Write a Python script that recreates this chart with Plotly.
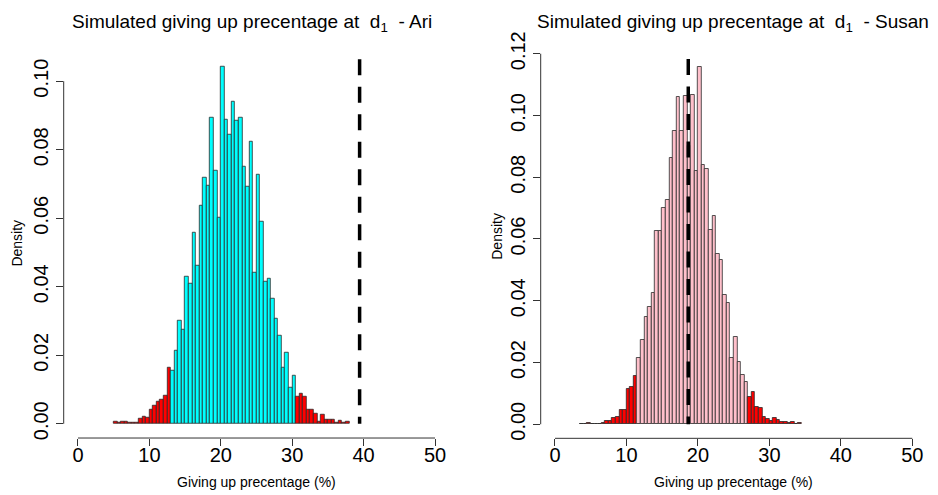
import numpy as np
import plotly.graph_objects as go

# ---------------- data ----------------
bin_width = 0.5

ari_first_break = 5.0
ari_density = [
    0.0006, 0.0002, 0.0007, 0.0005, 0.0004, 0.0003, 0.0003, 0.0016, 0.0020, 0.0017,
    0.0042, 0.0052, 0.0064, 0.0069, 0.0082, 0.0164,
    0.0154, 0.0213, 0.0301, 0.0276, 0.0428, 0.0409, 0.0558, 0.0462, 0.0637, 0.0717,
    0.0696, 0.0895, 0.0738, 0.0601, 0.1041, 0.0887, 0.0843, 0.0940, 0.0885, 0.0893,
    0.0751, 0.0691, 0.0824, 0.0442, 0.0728, 0.0591, 0.0416, 0.0423, 0.0364, 0.0307,
    0.0256, 0.0164, 0.0208, 0.0106, 0.0141,
    0.0080, 0.0088, 0.0078, 0.0042, 0.0042, 0.0029, 0.0005, 0.0028, 0.0013, 0.0012,
    0.0013, 0.0003, 0.0009, 0.0002, 0.0005,
]
ari_low_cut = 13.0
ari_high_cut = 30.5
ari_observed = 39.44

susan_first_break = 3.5
susan_density = [
    0.0002, 0.0001, 0.0003, 0.0002, 0.0001, 0.0001, 0.0006, 0.0010, 0.0010, 0.0020,
    0.0024, 0.0047, 0.0045, 0.0113, 0.0120, 0.0156,
    0.0215, 0.0272, 0.0347, 0.0380, 0.0427, 0.0625, 0.0627, 0.0700, 0.0727, 0.0862,
    0.0951, 0.1061, 0.0951, 0.1065, 0.0900, 0.1067, 0.0821, 0.1157, 0.0840, 0.0826,
    0.0629, 0.0675, 0.0552, 0.0532, 0.0418, 0.0393, 0.0215, 0.0283, 0.0203, 0.0161,
    0.0138,
    0.0088, 0.0104, 0.0055, 0.0053, 0.0024, 0.0016, 0.0012, 0.0022, 0.0015, 0.0007,
    0.0008, 0.0003, 0.0007, 0.0002, 0.0003,
]
susan_low_cut = 11.5
susan_high_cut = 27.0
susan_observed = 18.65

x_ticks = [0, 10, 20, 30, 40, 50]
ari_y_ticks = [0.00, 0.02, 0.04, 0.06, 0.08, 0.10]
susan_y_ticks = [0.00, 0.02, 0.04, 0.06, 0.08, 0.10, 0.12]

ari_title = "Simulated giving up precentage at  d<sub>1</sub>  - Ari"
susan_title = "Simulated giving up precentage at  d<sub>1</sub>  - Susan"
x_label = "Giving up precentage (%)"
y_label = "Density"

# ---------------- figure ----------------
W, H = 938, 495
FONT = "Liberation Sans, Arial, Helvetica, sans-serif"
AXC = "#333333"


def px(x):
    return x / W


def py(y):
    return 1 - y / H


def bars(first_break, dens, low, high, mid_color, xa, ya):
    dens = np.asarray(dens)
    lefts = first_break + bin_width * np.arange(len(dens))
    centers = lefts + bin_width / 2
    colors = ["#FF0000" if (l < low or l >= high) else mid_color for l in lefts]
    return go.Bar(x=centers, y=dens, width=bin_width, marker=dict(color=colors,
                  line=dict(color="#2a2a2a", width=0.8)), xaxis=xa, yaxis=ya,
                  hoverinfo="skip")


fig = go.Figure()
fig.add_trace(bars(ari_first_break, ari_density, ari_low_cut, ari_high_cut, "#00FFFF", "x", "y"))
fig.add_trace(bars(susan_first_break, susan_density, susan_low_cut, susan_high_cut, "#FFC0CB", "x2", "y2"))

axis_common = dict(showgrid=False, zeroline=False, showline=False, ticks="outside",
                   ticklen=7, tickwidth=1, tickcolor=AXC,
                   tickfont=dict(family=FONT, size=20, color="black"))

fig.update_layout(
    width=W, height=H, margin=dict(l=0, r=0, t=0, b=0),
    paper_bgcolor="white", plot_bgcolor="white", showlegend=False, bargap=0,
    xaxis=dict(domain=[px(63.7), px(449.3)], range=[-2, 52], tickvals=x_ticks,
               anchor="y", ticklabelstandoff=-8, **axis_common),
    yaxis=dict(domain=[py(439), py(46.5)], range=[-0.00416, 0.10833], tickvals=ari_y_ticks,
               tickformat=".2f", tickangle=-90, anchor="x", ticklabelstandoff=0, **axis_common),
    xaxis2=dict(domain=[px(540.7), px(926.6)], range=[-2, 52], tickvals=x_ticks,
                anchor="y2", ticklabelstandoff=-8, **axis_common),
    yaxis2=dict(domain=[py(439.3), py(32.5)], range=[-0.00455, 0.1248], tickvals=susan_y_ticks,
                tickformat=".2f", tickangle=-90, anchor="x2", ticklabelstandoff=0, **axis_common),
)

# R-style axis lines spanning first to last tick
for xa, ya, yt in (("x", "y", ari_y_ticks), ("x2", "y2", susan_y_ticks)):
    fig.add_shape(type="line", xref=xa, yref=f"{ya} domain", x0=x_ticks[0], x1=x_ticks[-1],
                  y0=0, y1=0, line=dict(color=AXC, width=1))
    fig.add_shape(type="line", xref=f"{xa} domain", yref=ya, x0=0, x1=0,
                  y0=yt[0], y1=yt[-1], line=dict(color=AXC, width=1))

# observed value dashed lines
for xa, ya, xv, top in (("x", "y", ari_observed, 0.1064), ("x2", "y2", susan_observed, 0.1183)):
    fig.add_shape(type="line", xref=xa, yref=ya, x0=xv, x1=xv, y0=top, y1=0,
                  line=dict(color="black", width=3.5, dash="16px,11.5px"))

ann = []
for cx, title in ((252, ari_title), (733, susan_title)):
    ann.append(dict(x=px(cx), y=py(16), xref="paper", yref="paper", text=title,
                    showarrow=False, xanchor="center", yanchor="middle",
                    font=dict(family=FONT, size=19, color="black")))
for cx in (256.7, 733.6):
    ann.append(dict(x=px(cx), y=py(484), xref="paper", yref="paper", text=x_label,
                    showarrow=False, xanchor="center", yanchor="middle",
                    font=dict(family=FONT, size=14, color="black")))
for cx, cy in ((17, 241), (497, 234)):
    ann.append(dict(x=px(cx), y=py(cy), xref="paper", yref="paper", text=y_label,
                    showarrow=False, xanchor="center", yanchor="middle", textangle=-90,
                    font=dict(family=FONT, size=14, color="black")))
fig.update_layout(annotations=ann)

fig.write_html("out.html")
